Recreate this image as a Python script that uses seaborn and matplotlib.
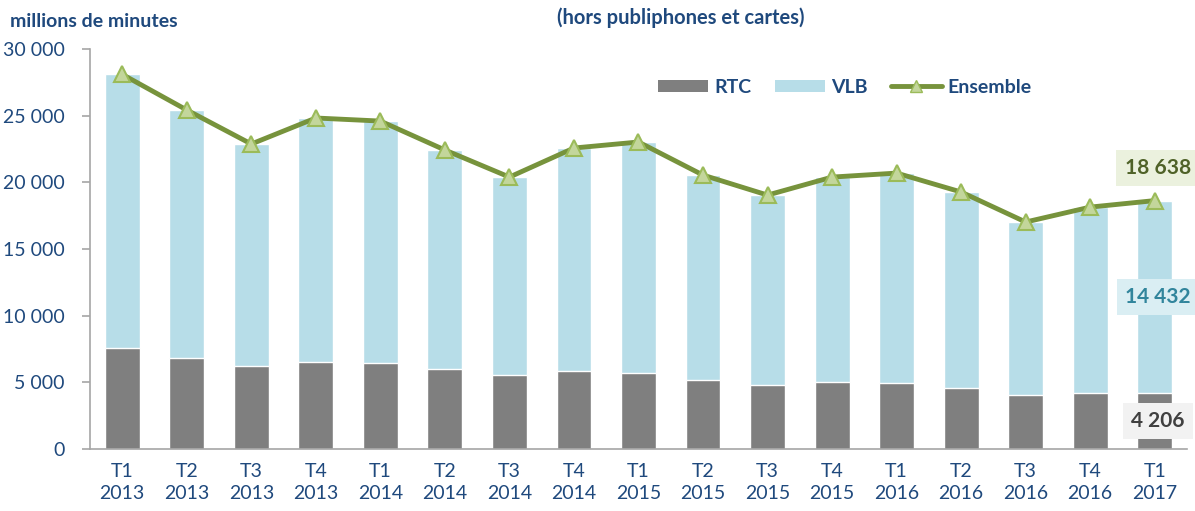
"""
Trafic voix fixe par type de réseau (RTC / VLB), trimestriel 2013-2017.
"""

import matplotlib
matplotlib.use("Agg")
import matplotlib.pyplot as plt
import seaborn as sns
import pandas as pd
import numpy as np
from matplotlib.lines import Line2D
from matplotlib.patches import Patch

quarters = ["T1", "T2", "T3", "T4", "T1", "T2", "T3", "T4", "T1",
            "T2", "T3", "T4", "T1", "T2", "T3", "T4", "T1"]
years = ["2013", "2013", "2013", "2013", "2014", "2014", "2014", "2014", "2015",
         "2015", "2015", "2015", "2016", "2016", "2016", "2016", "2017"]
rtc = [7580, 6830, 6230, 6530, 6450, 6000, 5550, 5850, 5700,
       5180, 4800, 5030, 4950, 4580, 4050, 4200, 4206]
ensemble = [28100, 25430, 22880, 24830, 24600, 22430, 20400, 22580, 23030,
            20550, 19050, 20400, 20700, 19280, 17030, 18150, 18638]
vlb = [e - r for e, r in zip(ensemble, rtc)]
vlb[-1] = 14432

labels = [f"{q}\n{y}" for q, y in zip(quarters, years)]
df = pd.DataFrame({"periode": labels, "RTC": rtc, "VLB": vlb})
df["Ensemble"] = df["RTC"] + df["VLB"]

C_RTC = "#7F7F7F"
C_VLB = "#B7DDE8"
C_LINE = "#77933C"
C_MFACE = "#C3D69B"
C_MEDGE = "#9BBB59"
C_TEXT = "#1F497D"

sns.set_style("white")
plt.rcParams["font.family"] = ["Lato", "DejaVu Sans"]

fig = plt.figure(figsize=(11.95, 5.11), dpi=100)
ax = fig.add_axes([0.0753, 0.121, 0.918, 0.783])

sns.barplot(data=df, x="periode", y="Ensemble", color=C_VLB, width=0.54,
            saturation=1, ax=ax)
sns.barplot(data=df, x="periode", y="RTC", color=C_RTC, width=0.54,
            saturation=1, ax=ax)
ax.plot(np.arange(len(df)), df["Ensemble"], color=C_LINE, lw=3.5,
        marker="^", ms=12, mfc=C_MFACE, mec=C_MEDGE, mew=1.5, zorder=5)

ax.set_ylim(0, 30000)
ax.set_xlim(-0.5, len(df) - 0.5)
ax.set_yticks(range(0, 30001, 5000))
ax.set_yticklabels([f"{v:,}".replace(",", " ") for v in range(0, 30001, 5000)])
ax.set_xlabel("")
ax.set_ylabel("")

for side in ["top", "right"]:
    ax.spines[side].set_visible(False)
for side in ["left", "bottom"]:
    ax.spines[side].set_color("#A6A6A6")
    ax.spines[side].set_linewidth(1.2)
ax.set_xticks(np.arange(len(df) + 1) - 0.5, minor=True)
ax.tick_params(axis="x", which="major", length=0, pad=10,
               labelsize=14, labelcolor=C_TEXT)
ax.tick_params(axis="x", which="minor", length=6, color="#A6A6A6", width=1.2)
ax.tick_params(axis="y", length=6, color="#A6A6A6", width=1.2, left=True,
               labelsize=14, labelcolor=C_TEXT, pad=12)
for t in ax.get_xticklabels():
    t.set_linespacing(1.35)

last = len(df) - 1
ax.text(last + 0.05, 21080, "18 638", ha="center", va="center",
        fontsize=15, fontweight="bold", color="#4F6228",
        bbox=dict(boxstyle="square,pad=0.4", fc="#EBF1DE", ec="none"))
ax.text(last + 0.05, 11400, "14 432", ha="center", va="center",
        fontsize=15, fontweight="bold", color="#31859C",
        bbox=dict(boxstyle="square,pad=0.4", fc="#DAEEF3", ec="none"))
ax.text(last + 0.05, 2100, "4 206", ha="center", va="center",
        fontsize=15, fontweight="bold", color="#404040",
        bbox=dict(boxstyle="square,pad=0.4", fc="#F2F2F2", ec="none"))

handles = [Patch(fc=C_RTC, ec="none"), Patch(fc=C_VLB, ec="none"),
           Line2D([0], [0], color=C_LINE, lw=3.5, marker="^", ms=9,
                  mfc=C_MFACE, mec=C_MEDGE)]
leg = ax.legend(handles, ["RTC", "VLB", "Ensemble"], ncol=3, frameon=False,
                loc="center", bbox_to_anchor=(0.688, 0.905), handlelength=2.6,
                handleheight=0.6, columnspacing=1.2, handletextpad=0.3,
                prop={"size": 14, "weight": "bold"})
for t in leg.get_texts():
    t.set_color(C_TEXT)

fig.text(0.008, 0.958, "millions de minutes", fontsize=14, fontweight="bold",
         color=C_TEXT, ha="left", va="center")
fig.text(0.57, 0.965, "(hors publiphones et cartes)", fontsize=14.5,
         fontweight="bold", color=C_TEXT, ha="center", va="center")

fig.savefig("out.png", dpi=100)
